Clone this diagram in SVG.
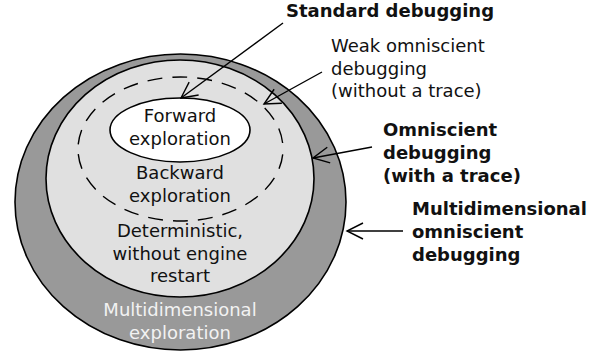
<svg xmlns="http://www.w3.org/2000/svg" width="603" height="354" viewBox="0 0 603 354">
<style>
text{font-family:"DejaVu Sans","Liberation Sans",sans-serif;font-size:18px;fill:#111}
.c{text-anchor:middle}
.b{font-weight:bold}
.w{fill:#f2f2f2}
.conn line{stroke:#000;stroke-width:1.4;fill:none}
</style>
<defs>
<marker id="ah" markerUnits="userSpaceOnUse" viewBox="-18 -10 20 20" refX="0" refY="0" markerWidth="20" markerHeight="20" orient="auto" overflow="visible">
<path d="M-16,-8 L0,0 L-16,8" fill="none" stroke="#000" stroke-width="1.4"/>
</marker>
</defs>
<g id="multidimensional">
<ellipse cx="180.5" cy="202" rx="165.5" ry="148" fill="#999999" stroke="#000" stroke-width="1.6"/>
<text class="c w" x="180" y="316">Multidimensional</text>
<text class="c w" x="180" y="338.5">exploration</text>
</g>
<g id="deterministic">
<ellipse cx="180" cy="178.5" rx="134" ry="118.5" fill="#e0e0e0" stroke="#000" stroke-width="1.6"/>
<text class="c" x="180" y="237">Deterministic,</text>
<text class="c" x="180" y="259.5">without engine</text>
<text class="c" x="180" y="282">restart</text>
</g>
<g id="backward">
<ellipse cx="180.5" cy="149" rx="102.5" ry="72" fill="none" stroke="#000" stroke-width="1.4" stroke-dasharray="15 10" stroke-dashoffset="19.5"/>
<text class="c" x="180" y="179">Backward</text>
<text class="c" x="180" y="201.5">exploration</text>
</g>
<g id="forward">
<ellipse cx="180" cy="130" rx="70" ry="32" fill="#fff" stroke="#000" stroke-width="1.6"/>
<text class="c" x="180" y="122">Forward</text>
<text class="c" x="180" y="144.5">exploration</text>
</g>
<g id="standard">
<text class="b" x="286" y="17">Standard debugging</text>
</g>
<g id="weak">
<text x="331" y="52">Weak omniscient</text>
<text x="331" y="74.5">debugging</text>
<text x="331" y="97">(without a trace)</text>
</g>
<g id="omniscient">
<text class="b" x="383" y="136">Omniscient</text>
<text class="b" x="383" y="159">debugging</text>
<text class="b" x="383" y="182">(with a trace)</text>
</g>
<g id="multi-omniscient">
<text class="b" x="412" y="215">Multidimensional</text>
<text class="b" x="412" y="238">omniscient</text>
<text class="b" x="412" y="261">debugging</text>
</g>
<g class="conn" id="connectors">
<line x1="283" y1="23" x2="181" y2="98" marker-end="url(#ah)"/>
<line x1="322" y1="72" x2="264" y2="104" marker-end="url(#ah)"/>
<line x1="372" y1="147" x2="313" y2="158" marker-end="url(#ah)"/>
<line x1="403" y1="231" x2="347" y2="231" marker-end="url(#ah)"/>
</g>
</svg>
